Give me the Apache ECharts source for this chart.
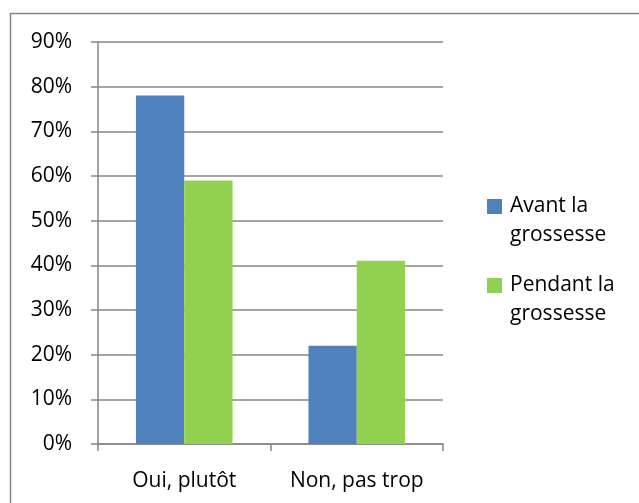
<!DOCTYPE html>
<html>
<head>
<meta charset="utf-8">
<script src="https://cdn.jsdelivr.net/npm/echarts@6/dist/echarts.min.js"></script>
<style>
  html, body { margin: 0; padding: 0; background: #fff; }
  #chart { width: 639px; height: 503px; }
</style>
</head>
<body>
<div id="chart"></div>
<script>
// catégories et valeurs (en %)
const categories = ['Oui, plutôt', 'Non, pas trop']
const seriesNames = ['Avant la grossesse', 'Pendant la grossesse']
const avantValues = [78, 22]
const pendantValues = [59, 41]
const yTicks = [0, 10, 20, 30, 40, 50, 60, 70, 80, 90]

const FONT = '"Open Sans", "Noto Sans", sans-serif'
const GREY = '#868686'

const chart = echarts.init(document.getElementById('chart'))

const option = {
  animation: false,
  backgroundColor: '#fff',
  // cadre extérieur (coupé à droite et en bas)
  graphic: [
    {
      type: 'rect',
      shape: { x: 10.5, y: 13.5, width: 700, height: 600 },
      style: { fill: 'none', stroke: GREY, lineWidth: 1.5 },
      silent: true
    }
  ],
  grid: {
    left: 98,
    right: 196,
    top: 42,
    bottom: 59
  },
  legend: {
    orient: 'vertical',
    left: 487,
    top: 163,
    padding: 0,
    itemGap: -8,
    itemWidth: 15,
    itemHeight: 15,
    icon: 'rect',
    selectedMode: false,
    // ligne vide en tête pour aligner le carré sur la 1re ligne
    formatter: name => '\n' + name.replace(' grossesse', '\ngrossesse'),
    textStyle: {
      fontFamily: FONT,
      fontSize: 21,
      color: '#000',
      lineHeight: 29,
      padding: [0, 0, 0, 3]
    },
    data: seriesNames
  },
  xAxis: {
    type: 'category',
    data: categories,
    axisLine: { lineStyle: { color: GREY, width: 1.5 } },
    axisTick: { show: true, length: 7, lineStyle: { color: GREY, width: 1.5 } },
    axisLabel: {
      color: '#000',
      fontFamily: FONT,
      fontSize: 21,
      margin: 27,
      interval: 0
    }
  },
  yAxis: {
    type: 'value',
    min: yTicks[0],
    max: yTicks[yTicks.length - 1],
    interval: 10,
    axisLine: { show: true, lineStyle: { color: GREY, width: 1.5 } },
    axisTick: { show: true, length: 7, lineStyle: { color: GREY, width: 1.5 } },
    splitLine: { show: true, lineStyle: { color: GREY, width: 1.5 } },
    axisLabel: {
      color: '#000',
      fontFamily: FONT,
      fontSize: 21,
      margin: 26,
      formatter: '{value}%'
    }
  },
  series: [
    {
      name: seriesNames[0],
      type: 'bar',
      data: avantValues,
      barGap: '0%',
      barCategoryGap: '44%',
      itemStyle: { color: '#4F81BD' }
    },
    {
      name: seriesNames[1],
      type: 'bar',
      data: pendantValues,
      itemStyle: { color: '#92D050' }
    }
  ]
}

chart.setOption(option)
</script>
</body>
</html>
